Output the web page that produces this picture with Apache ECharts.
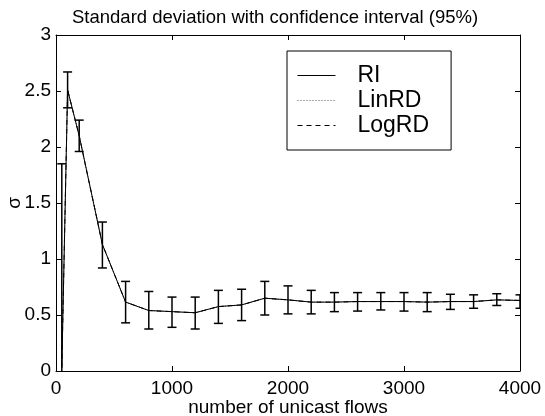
<!DOCTYPE html>
<html>
<head>
<meta charset="utf-8">
<script src="https://cdn.jsdelivr.net/npm/echarts@6/dist/echarts.min.js"></script>
<style>
html,body{margin:0;padding:0;background:#fff;}
#c{width:545px;height:416px;}
</style>
</head>
<body>
<div id="c"></div>
<script>
var titleText = 'Standard deviation with confidence interval (95%)';
var xName = 'number of unicast flows';
var yName = 'σ';
var seriesNames = ['RI', 'LinRD', 'LogRD'];
var xTicks = [0, 1000, 2000, 3000, 4000];
var yTicks = [0, 0.5, 1, 1.5, 2, 2.5, 3];

var xValues = [50, 100, 200, 400, 600, 800, 1000, 1200, 1400, 1600, 1800, 2000, 2200, 2400, 2600, 2800, 3000, 3200, 3400, 3600, 3800, 4000];
var riMean  = [0.03, 2.51, 2.10, 1.13, 0.615, 0.54, 0.53, 0.52, 0.575, 0.59, 0.65, 0.635, 0.615, 0.615, 0.62, 0.62, 0.62, 0.615, 0.62, 0.62, 0.635, 0.63];
var linRDMean = [0.03, 2.51, 2.10, 1.13, 0.615, 0.54, 0.53, 0.52, 0.575, 0.59, 0.65, 0.635, 0.615, 0.615, 0.62, 0.62, 0.62, 0.615, 0.62, 0.62, 0.635, 0.63];
var logRDMean = [0.03, 2.51, 2.10, 1.13, 0.615, 0.54, 0.53, 0.52, 0.575, 0.59, 0.65, 0.635, 0.615, 0.615, 0.62, 0.62, 0.62, 0.615, 0.62, 0.62, 0.635, 0.63];
var riLow   = [-1.79, 2.35, 1.96, 0.92, 0.43, 0.375, 0.39, 0.375, 0.425, 0.45, 0.50, 0.51, 0.51, 0.53, 0.535, 0.545, 0.535, 0.53, 0.55, 0.56, 0.585, 0.56];
var riHigh  = [1.85, 2.67, 2.24, 1.33, 0.80, 0.71, 0.66, 0.66, 0.72, 0.73, 0.80, 0.76, 0.72, 0.70, 0.70, 0.70, 0.70, 0.70, 0.685, 0.68, 0.69, 0.68];

var FONT = 'Liberation Sans, Arial, Helvetica, sans-serif';

function pairs(xs, ys) { return xs.map(function (x, i) { return [x, ys[i]]; }); }
var errData = xValues.map(function (x, i) { return [x, riLow[i], riHigh[i]]; });

var chart = echarts.init(document.getElementById('c'), null, {renderer: 'canvas'});

var axisCommon = {
  axisLine: {show: true, onZero: false, lineStyle: {color: '#000', width: 1}},
  axisTick: {show: true, inside: true, length: 5, lineStyle: {color: '#000', width: 1}},
  splitLine: {show: false}
};

function errorRender(params, api) {
  var x = api.value(0), lo = api.value(1), hi = api.value(2);
  var pT = api.coord([x, hi]);
  var pB = api.coord([x, lo]);
  var cs = params.coordSys;
  var top = cs.y, bot = cs.y + cs.height, left = cs.x, right = cs.x + cs.width;
  function cy(v) { return Math.max(top, Math.min(bot, v)); }
  function cx(v) { return Math.max(left, Math.min(right, v)); }
  var half = 4.5;
  var st = {stroke: '#000', lineWidth: 1.5};
  var ch = [];
  ch.push({type: 'line', shape: {x1: pT[0], y1: cy(pT[1]), x2: pT[0], y2: cy(pB[1])}, style: st});
  if (pT[1] >= top && pT[1] <= bot) {
    ch.push({type: 'line', shape: {x1: cx(pT[0] - half), y1: pT[1], x2: cx(pT[0] + half), y2: pT[1]}, style: st});
  }
  if (pB[1] >= top && pB[1] <= bot) {
    ch.push({type: 'line', shape: {x1: cx(pB[0] - half), y1: pB[1], x2: cx(pB[0] + half), y2: pB[1]}, style: st});
  }
  return {type: 'group', children: ch};
}

chart.setOption({
  animation: false,
  backgroundColor: '#fff',
  textStyle: {fontFamily: FONT, color: '#000'},
  title: {
    text: titleText,
    left: 67, top: 3,
    textStyle: {fontFamily: FONT, fontSize: 18.5, fontWeight: 'normal', color: '#000'}
  },
  legend: {
    data: seriesNames,
    orient: 'vertical',
    left: 287, top: 51,
    itemWidth: 38, itemHeight: 14, itemGap: 2,
    padding: [13, 22, 13, 10],
    backgroundColor: '#fff',
    borderColor: '#000', borderWidth: 1, borderRadius: 0,
    itemStyle: {color: 'rgba(0,0,0,0)', borderColor: 'rgba(0,0,0,0)', borderWidth: 0, opacity: 0},
    lineStyle: {width: 1},
    textStyle: {fontFamily: FONT, fontSize: 23, color: '#000', padding: [0, 0, 0, 17]},
    selectedMode: false
  },
  grid: {left: 56, right: 25, top: 35, bottom: 45, containLabel: false, outerBoundsMode: 'none'},
  xAxis: [
    Object.assign({}, axisCommon, {
      type: 'value', position: 'bottom',
      min: xTicks[0], max: xTicks[xTicks.length - 1], interval: xTicks[1] - xTicks[0],
      name: xName, nameLocation: 'middle', nameGap: 37, nameMoveOverlap: false,
      nameTextStyle: {fontFamily: FONT, fontSize: 19, color: '#000', verticalAlign: 'middle'},
      axisLabel: {show: true, margin: 8, fontFamily: FONT, fontSize: 19, color: '#000',
        formatter: function (v) { return String(v); }}
    }),
    Object.assign({}, axisCommon, {
      type: 'value', position: 'top',
      min: xTicks[0], max: xTicks[xTicks.length - 1], interval: xTicks[1] - xTicks[0],
      axisLabel: {show: false}
    })
  ],
  yAxis: [
    Object.assign({}, axisCommon, {
      type: 'value', position: 'left',
      min: yTicks[0], max: yTicks[yTicks.length - 1], interval: yTicks[1] - yTicks[0],
      name: yName, nameLocation: 'middle', nameGap: 41, nameRotate: 90, nameMoveOverlap: false,
      nameTextStyle: {fontFamily: FONT, fontSize: 19, color: '#000', verticalAlign: 'middle'},
      axisLabel: {show: true, margin: 5, fontFamily: FONT, fontSize: 19, color: '#000',
        formatter: function (v) { return String(v); }}
    }),
    Object.assign({}, axisCommon, {
      type: 'value', position: 'right',
      min: yTicks[0], max: yTicks[yTicks.length - 1], interval: yTicks[1] - yTicks[0],
      axisLabel: {show: false}
    })
  ],
  series: [
    {
      name: seriesNames[1], type: 'line', xAxisIndex: 0, yAxisIndex: 0,
      data: pairs(xValues, linRDMean), symbol: 'none', showSymbol: false,
      lineStyle: {color: '#555', width: 1, type: [1, 2]}, itemStyle: {color: '#555'}, z: 2
    },
    {
      name: seriesNames[2], type: 'line', xAxisIndex: 0, yAxisIndex: 0,
      data: pairs(xValues, logRDMean), symbol: 'none', showSymbol: false,
      lineStyle: {color: '#000', width: 1, type: [5, 4]}, itemStyle: {color: '#000'}, z: 2
    },
    {
      name: seriesNames[0], type: 'line', xAxisIndex: 0, yAxisIndex: 0,
      data: pairs(xValues, riMean), symbol: 'none', showSymbol: false,
      lineStyle: {color: '#000', width: 1, type: 'solid'}, itemStyle: {color: '#000'}, z: 3
    },
    {
      name: 'RI error', type: 'custom', xAxisIndex: 0, yAxisIndex: 0,
      data: errData, renderItem: errorRender, clip: true, z: 4,
      encode: {x: 0, y: [1, 2]}
    }
  ]
});
</script>
</body>
</html>
